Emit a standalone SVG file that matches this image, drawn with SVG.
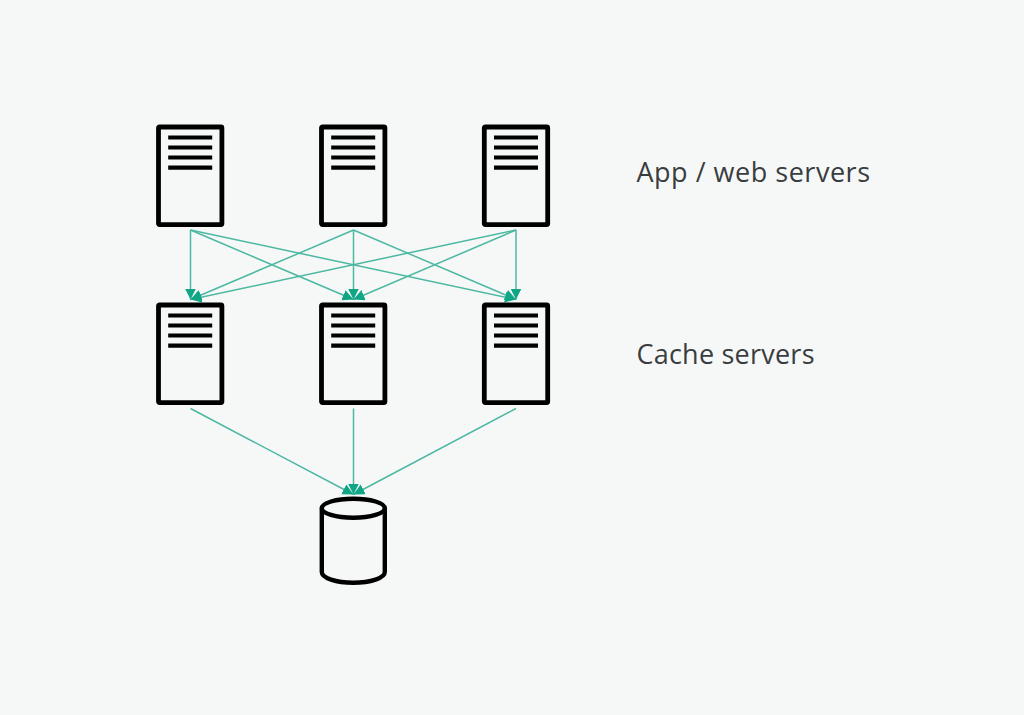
<svg xmlns="http://www.w3.org/2000/svg" xmlns:xlink="http://www.w3.org/1999/xlink" width="1024" height="715" viewBox="0 0 1024 715">
<style>
.box{fill:none;stroke:#000;stroke-width:4.8;stroke-linejoin:round}
.bar{stroke:#000;stroke-width:4.2;stroke-linecap:butt}
.c{fill:none;stroke:#4cb8a1;stroke-width:1.5;marker-end:url(#a)}
.t{font-family:"Open Sans","Noto Sans",sans-serif;font-size:27px;fill:#3a3d3f}
</style>
<defs>
<marker id="a" markerUnits="userSpaceOnUse" markerWidth="12" markerHeight="12" refX="11" refY="5.5" orient="auto"><path d="M0 0L11 5.5L0 11Z" fill="#0fa585"/></marker>
<g id="srv">
<rect class="box" x="0" y="0" width="63.4" height="97.6" rx="1"/>
<path class="bar" d="M9.700 10.500H53.700M9.700 20.500H53.700M9.700 30.500H53.700M9.700 40.700H53.700"/>
</g>
</defs>
<rect width="1024" height="715" fill="#f6f8f8"/>
<g id="connectors">
<path class="c" d="M190.500 230L190.500 299.500"/>
<path class="c" d="M190.500 230L353.500 299.500"/>
<path class="c" d="M190.500 230L516 299.500"/>
<path class="c" d="M353.500 230L190.500 299.500"/>
<path class="c" d="M353.500 230L353.500 299.500"/>
<path class="c" d="M353.500 230L516 299.500"/>
<path class="c" d="M516 230L190.500 299.500"/>
<path class="c" d="M516 230L353.500 299.500"/>
<path class="c" d="M516 230L516 299.500"/>
<path class="c" d="M190.500 408.500L353.500 494.500"/>
<path class="c" d="M353.500 408.500L353.500 494.500"/>
<path class="c" d="M516 408.500L353.500 494.500"/>
</g>
<g id="app1"><use xlink:href="#srv" href="#srv" x="158.500" y="127"/></g>
<g id="app2"><use xlink:href="#srv" href="#srv" x="321.500" y="127"/></g>
<g id="app3"><use xlink:href="#srv" href="#srv" x="484.300" y="127"/></g>
<g id="cache1"><use xlink:href="#srv" href="#srv" x="158.500" y="305"/></g>
<g id="cache2"><use xlink:href="#srv" href="#srv" x="321.500" y="305"/></g>
<g id="cache3"><use xlink:href="#srv" href="#srv" x="484.300" y="305"/></g>
<g id="db" fill="none" stroke="#000" stroke-width="4.4">
<ellipse cx="353.300" cy="508.200" rx="31.500" ry="9.500"/>
<path d="M321.800 508.200V572C321.800 578 336 582.800 353.300 582.800S384.800 578 384.800 572V508.200"/>
</g>
<g id="label-app"><text class="t" x="636.500" y="181.500" textLength="233.500">App / web servers</text></g>
<g id="label-cache"><text class="t" x="636.500" y="364" textLength="178">Cache servers</text></g>
</svg>
